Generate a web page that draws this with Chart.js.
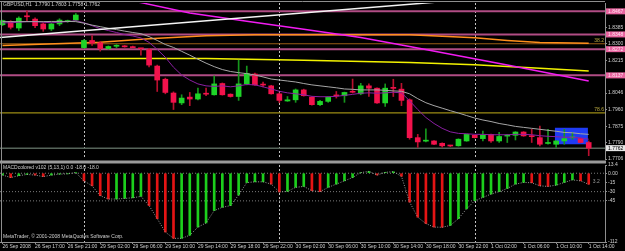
<!DOCTYPE html>
<html><head><meta charset="utf-8">
<script src="https://cdn.jsdelivr.net/npm/chart.js@4.4.1/dist/chart.umd.min.js"></script>
<style>
html,body{margin:0;padding:0;background:#000;width:625px;height:251px;overflow:hidden;}
#wrap{position:relative;width:625px;height:251px;background:#000;}
canvas{position:absolute;left:0;}
#c1{top:0;}
#c2{top:162px;}
</style></head><body>
<div id="wrap"><canvas id="c1" width="625" height="162"></canvas><canvas id="c2" width="625" height="89"></canvas></div>
<script>
// ---------- data ----------
const symbolTitle = 'GBPUSD,H1  1.7790 1.7803 1.7758 1.7762';
const macdTitle = 'MACDcolored v102 (5,13,1) 0.0 -18.0 -18.0';
const copyrightText = 'MetaTrader, \u00A9 2001-2008 MetaQuotes Software Corp.';
const timeLabelBars = [0,4,8,12,16,20,24,28,32,36,40,44,48,52,56,60,64,68,72];
const timeLabels = ['26 Sep 2008','26 Sep 17:00','26 Sep 21:00','29 Sep 02:00','29 Sep 06:00','29 Sep 10:00','29 Sep 14:00','29 Sep 18:00','29 Sep 22:00','30 Sep 02:00','30 Sep 06:00','30 Sep 10:00','30 Sep 14:00','30 Sep 18:00','30 Sep 22:00','1 Oct 02:00','1 Oct 06:00','1 Oct 10:00','1 Oct 14:00'];
const daySeparators = [10,34,58];

const open = [
1.8398,1.8415,1.8381,1.8441,1.8427,1.8402,1.8376,1.8402,1.8414,1.8422,
1.8280,1.8317,1.8305,1.8275,1.8287,1.8289,1.8285,1.8276,1.8270,1.8185,
1.8117,1.8046,1.7995,1.8025,1.8015,1.8042,1.8037,1.8095,1.8040,1.8028,
1.8093,1.8144,1.8089,1.8083,1.8042,1.8005,1.8011,1.8062,1.8025,1.7986,
1.8003,1.8033,1.8032,1.8052,1.8042,1.8083,1.8071,1.7995,1.8072,1.8066,
1.8011,1.7816,1.7798,1.7799,1.7787,1.7775,1.7774,1.7799,1.7828,1.7811,
1.7833,1.7799,1.7824,1.7828,1.7845,1.7823,1.7816,1.7786,1.7782,1.7799,
1.7815,1.7811,1.7791];
const high = [
1.8422,1.8419,1.8439,1.8470,1.8434,1.8408,1.8408,1.8429,1.8422,1.8456,
1.8322,1.8342,1.8312,1.8289,1.8296,1.8291,1.8288,1.8277,1.8276,1.8190,
1.8123,1.8052,1.8037,1.8049,1.8071,1.8071,1.8134,1.8098,1.8042,1.8215,
1.8185,1.8149,1.8103,1.8086,1.8047,1.8028,1.8067,1.8066,1.8028,1.8008,
1.8027,1.8054,1.8051,1.8118,1.8096,1.8093,1.8073,1.8093,1.8117,1.8096,
1.8016,1.7833,1.7862,1.7801,1.7789,1.7777,1.7810,1.7835,1.7830,1.7850,
1.7835,1.7843,1.7833,1.7847,1.7847,1.7859,1.7876,1.7859,1.7801,1.7859,
1.7843,1.7813,1.7799];
const low = [
1.8393,1.8376,1.8368,1.8415,1.8383,1.8364,1.8368,1.8393,1.8410,1.8419,
1.8276,1.8291,1.8262,1.8272,1.8279,1.8282,1.8278,1.8241,1.8181,1.8054,
1.8042,1.7961,1.7986,1.7981,1.8011,1.8032,1.8035,1.8035,1.8025,1.8008,
1.8088,1.8085,1.8078,1.8040,1.7996,1.8003,1.7998,1.8030,1.7984,1.7981,
1.7998,1.8020,1.7998,1.8046,1.8037,1.8028,1.7993,1.7977,1.8028,1.7981,
1.7808,1.7766,1.7794,1.7780,1.7767,1.7770,1.7772,1.7797,1.7814,1.7799,
1.7791,1.7791,1.7791,1.7804,1.7823,1.7791,1.7774,1.7782,1.7766,1.7782,
1.7808,1.7789,1.7723];
const close = [
1.8419,1.8385,1.8432,1.8439,1.8393,1.8376,1.8402,1.8422,1.8419,1.8448,
1.8317,1.8303,1.8275,1.8286,1.8289,1.8284,1.8280,1.8274,1.8190,1.8113,
1.8049,1.7998,1.8020,1.8015,1.8042,1.8040,1.8093,1.8037,1.8028,1.8093,
1.8147,1.8088,1.8087,1.8042,1.8008,1.8011,1.8062,1.8032,1.7986,1.8003,
1.8025,1.8031,1.8049,1.8050,1.8083,1.8071,1.7995,1.8071,1.8070,1.8008,
1.7816,1.7794,1.7800,1.7782,1.7774,1.7773,1.7808,1.7833,1.7816,1.7828,
1.7799,1.7822,1.7826,1.7845,1.7825,1.7821,1.7782,1.7788,1.7799,1.7811,
1.7817,1.7791,1.7762];

const maPurple = [
1.8408,1.8408,1.8411,1.8414,1.8414,1.8411,1.8408,1.8411,1.8414,1.8419,
1.8408,1.8393,1.8378,1.8368,1.8358,1.8347,1.8340,1.8330,1.8307,1.8271,
1.8230,1.8179,1.8139,1.8113,1.8093,1.8083,1.8080,1.8083,1.8078,1.8083,
1.8090,1.8088,1.8078,1.8067,1.8055,1.8047,1.8042,1.8037,1.8029,1.8027,
1.8027,1.8029,1.8034,1.8039,1.8045,1.8047,1.8045,1.8047,1.8050,1.8047,
1.8006,1.7961,1.7920,1.7889,1.7864,1.7846,1.7838,1.7836,1.7833,1.7833,
1.7831,1.7831,1.7831,1.7833,1.7833,1.7831,1.7826,1.7823,1.7821,1.7818,
1.7818,1.7815,1.7808];
const maGray = [
1.8414,1.8414,1.8414,1.8414,1.8414,1.8414,1.8415,1.8415,1.8415,1.8414,
1.8406,1.8396,1.8388,1.8380,1.8373,1.8365,1.8358,1.8352,1.8337,1.8317,
1.8296,1.8281,1.8261,1.8241,1.8220,1.8200,1.8182,1.8167,1.8157,1.8151,
1.8146,1.8139,1.8129,1.8118,1.8113,1.8108,1.8103,1.8095,1.8088,1.8083,
1.8078,1.8073,1.8067,1.8065,1.8062,1.8062,1.8062,1.8060,1.8057,1.8055,
1.8042,1.8017,1.7996,1.7981,1.7968,1.7955,1.7943,1.7930,1.7917,1.7907,
1.7899,1.7889,1.7882,1.7874,1.7869,1.7864,1.7859,1.7854,1.7849,1.7843,
1.7841,1.7836,1.7833];
const maMagenta = [[12,1.8546],[17,1.8512],[23,1.8459],[30,1.8416],[37,1.8375],[44,1.8332],[50,1.8286],[56,1.8238],[62,1.8190],[67,1.8149],[72,1.8108]];
const maOrange = [[0,1.8291],[12,1.8308],[18,1.8326],[25,1.8341],[31,1.8346],[50,1.8346],[58,1.8331],[62,1.8317],[66,1.8306],[72,1.8302]];
const maYellow = [[0,1.8224],[25,1.8224],[37,1.8215],[50,1.8203],[58,1.8192],[66,1.8174],[72,1.8159]];
const trendLine = [[-0.3,1.8332],[54.3,1.8518]];
const levelLines = [1.8467,1.8348,1.8272,1.8137];
const fibLevels = [1.8300,1.7944];
const fibNames = ['38.2','78.6'];
const bidPrice = 1.7762;
const boxBars = [67.85,71.9];
const boxPrices = [1.7782,1.7867];
const priceTicks = [1.8385,1.8300,1.8215,1.8046,1.7960,1.7875,1.7790,1.7706];

const macd = [
-3,-7,-4,-2,-3,-5.5,-3,-1.5,-1,1,
-12.5,-20.5,-36.6,-42,-42,-41,-40,-37.7,-52.7,-74,
-95.8,-106,-106,-101,-87.7,-81,-60.8,-55.5,-52.7,-35.5,
-15.2,-14,-14,-17.7,-30.5,-29.5,-23,-21.5,-28.5,-30,
-23,-17.7,-12.4,-7,1,3,-3,1.5,2.5,-5,
-47,-71.6,-82,-87.7,-88,-85,-74,-58,-44.7,-39.4,
-34,-30,-24.8,-17.7,-15,-15.5,-20.5,-21.5,-19.4,-15,
-10.8,-12.4,-18];
const macdUp = [
1,0,1,1,0,0,1,1,1,1,
0,0,0,0,1,1,1,1,0,0,
0,0,1,1,1,1,1,1,1,1,
1,1,1,0,0,1,1,1,0,0,
1,1,1,1,1,1,0,1,1,0,
0,0,0,0,0,1,1,1,1,1,
1,1,1,1,1,0,0,0,1,1,
1,0,0];
const macdTicks = [13.4,0,-15,-30,-45,-112];
const macdTickLabels = ['13.4','0.00','-15','-30','-45','-112'];
const macdLevels = [0,-30,-45];
const macdNote = '3.2';

// ---------- layout / style ----------
const X_MIN = -0.31, X_MAX = 74.0;
const P_MIN = 1.7706, P_MAX = 1.8510;
const FONT = 'Liberation Sans';
const TXT = '#cfcfcf';
const FRAME = '#8e8e8e';
const N = close.length;
const idx = Array.from({length:N}, (_, i) => i);
const isUp = idx.map(i => close[i] >= open[i]);

const pts = arr => arr.map(p => ({x:p[0], y:p[1]}));
const series = arr => arr.map((v, i) => ({x:i, y:v}));
const hline = p => [{x:X_MIN, y:p}, {x:X_MAX, y:p}];
const lineDS = (data, color, w, order, dash) => ({type:'line', data, borderColor:color, borderWidth:w, pointRadius:0, pointHoverRadius:0, fill:false, tension:0, order, borderDash:dash || []});

const dsA = [];
levelLines.forEach(p => dsA.push(lineDS(hline(p), '#b04c84', 2, 20)));
dsA.push(lineDS(hline(fibLevels[0]), '#9a5c14', 1.2, 20));
dsA.push(lineDS(hline(fibLevels[1]), '#9c8c14', 1.2, 20));
dsA.push(lineDS(hline(bidPrice), '#56645a', 1.5, 20));
dsA.push(lineDS(pts(maYellow), '#f2f200', 1.5, 15));
dsA.push(lineDS(pts(maOrange), '#ff8f1c', 1.5, 15));
dsA.push({type:'bar', data: idx.map(i => ({x:i, y:[low[i], high[i]]})), backgroundColor: idx.map(i => isUp[i] ? '#16961c' : '#b8102e'), barThickness:1, grouped:false, order:6});
dsA.push({type:'bar', data: idx.map(i => ({x:i, y:[open[i], close[i]]})), backgroundColor: idx.map(i => isUp[i] ? '#1ed428' : '#f2124c'), barThickness:5, minBarLength:1, grouped:false, order:5});
dsA.push(lineDS(series(maGray), '#a6a6a6', 1, 2));
dsA.push(lineDS(series(maPurple), '#8a1fa2', 1, 2));
dsA.push(lineDS(pts(maMagenta), '#f21cf2', 1.5, 1));
dsA.push(lineDS(pts(trendLine), '#f4f4f4', 1.5, 0));

const drawSeparators = (chart) => {
  const {ctx, chartArea:a, scales:{x}} = chart;
  ctx.save();
  ctx.strokeStyle = '#c4c4c4'; ctx.lineWidth = 1; ctx.setLineDash([2,2]);
  daySeparators.forEach(b => {
    const px = Math.round(x.getPixelForValue(b)) + 0.5;
    ctx.beginPath(); ctx.moveTo(px, a.top); ctx.lineTo(px, a.bottom); ctx.stroke();
  });
  ctx.restore();
};

const decorA = {
  id:'decorA',
  beforeDatasetsDraw(chart){
    const {ctx, chartArea:a, scales:{x, y}} = chart;
    ctx.save();
    ctx.beginPath(); ctx.rect(a.left, a.top, a.width, a.height); ctx.clip();
    const x1 = x.getPixelForValue(boxBars[0]), x2 = x.getPixelForValue(boxBars[1]);
    const y1 = y.getPixelForValue(boxPrices[1]), y2 = y.getPixelForValue(boxPrices[0]);
    ctx.fillStyle = '#1f3cf4';
    ctx.fillRect(x1, y1, x2 - x1, y2 - y1);
    ctx.restore();
    drawSeparators(chart);
  },
  afterDraw(chart){
    const {ctx, chartArea:a, scales:{y}} = chart;
    ctx.save();
    ctx.font = '5px ' + FONT;
    ctx.textBaseline = 'middle';
    levelLines.forEach(p => {
      const py = y.getPixelForValue(p);
      ctx.fillStyle = '#e8649f';
      ctx.fillRect(a.right + 1, py - 3, 624 - a.right, 6);
      ctx.fillStyle = '#ffe0ef';
      ctx.textAlign = 'left';
      ctx.fillText(p.toFixed(4), a.right + 3, py + 0.3);
    });
    const by = y.getPixelForValue(bidPrice);
    ctx.fillStyle = '#e6e6e6';
    ctx.fillRect(a.right + 1, by - 3, 624 - a.right, 6);
    ctx.fillStyle = '#000';
    ctx.fillText(bidPrice.toFixed(4), a.right + 3, by + 0.3);
    ctx.fillStyle = '#b8a840';
    ctx.textAlign = 'right';
    fibLevels.forEach((p, k) => {
      ctx.fillText(fibNames[k], a.right - 1, y.getPixelForValue(p) - 3);
    });
    ctx.fillStyle = TXT; ctx.textAlign = 'left';
    ctx.fillText(symbolTitle, 3, 5);
    ctx.strokeStyle = FRAME; ctx.lineWidth = 1;
    ctx.beginPath();
    ctx.moveTo(0, 1.5); ctx.lineTo(a.right, 1.5);
    ctx.moveTo(1.5, 1); ctx.lineTo(1.5, 162);
    ctx.stroke();
    ctx.fillStyle = '#9a9a9a';
    ctx.fillRect(0, 160.5, a.right + 1, 1.5);
    ctx.restore();
  }
};

new Chart(document.getElementById('c1'), {
  type:'bar',
  data:{datasets:dsA},
  options:{
    responsive:false, animation:false, devicePixelRatio:1,
    layout:{padding:{top:2, bottom:2, left:0, right:0}},
    plugins:{legend:{display:false}, tooltip:{enabled:false}},
    scales:{
      x:{type:'linear', min:X_MIN, max:X_MAX, offset:false, display:false, grid:{offset:false}},
      y:{type:'linear', position:'right', min:P_MIN, max:P_MAX,
        afterBuildTicks: s => { s.ticks = priceTicks.map(v => ({value:v})); },
        afterFit: s => { s.width = 20; },
        ticks:{color:TXT, font:{family:FONT, size:5, lineHeight:0.8}, padding:1, autoSkip:false, callback: v => Number(v).toFixed(4)},
        grid:{drawOnChartArea:false, drawTicks:true, tickLength:2, color:FRAME},
        border:{display:true, color:FRAME, width:1}
      }
    }
  },
  plugins:[decorA]
});

// ---------- indicator panel ----------
const dsB = [];
macdLevels.forEach(v => dsB.push(lineDS(hline(v), '#7c7c7c', 1, 10, [1,2])));
dsB.push({type:'bar', data: series(macd), backgroundColor: idx.map(i => macdUp[i] ? '#1ccf1c' : '#e41414'), barThickness:2, grouped:false, order:3});
dsB.push(lineDS(series(macd), '#9a9a9a', 1, 1, [1,1.5]));

const decorB = {
  id:'decorB',
  beforeDatasetsDraw(chart){ drawSeparators(chart); },
  afterDraw(chart){
    const {ctx, chartArea:a, scales:{x, y}} = chart;
    ctx.save();
    ctx.font = '5px ' + FONT;
    ctx.textBaseline = 'middle';
    ctx.fillStyle = TXT; ctx.textAlign = 'left';
    ctx.fillText(macdTitle, 3, 6);
    ctx.fillText(copyrightText, 3, 74.7);
    ctx.fillStyle = '#9a9a9a';
    ctx.fillText(macdNote, x.getPixelForValue(N - 1) + 4, y.getPixelForValue(-14));
    ctx.fillStyle = '#9a9a9a';
    ctx.fillRect(0, 0, a.right + 1, 1.5);
    ctx.strokeStyle = FRAME; ctx.lineWidth = 1;
    ctx.beginPath(); ctx.moveTo(1.5, 0); ctx.lineTo(1.5, a.bottom); ctx.stroke();
    ctx.restore();
  }
};

new Chart(document.getElementById('c2'), {
  type:'bar',
  data:{datasets:dsB},
  options:{
    responsive:false, animation:false, devicePixelRatio:1,
    layout:{padding:{top:2, bottom:0, left:0, right:0}},
    plugins:{legend:{display:false}, tooltip:{enabled:false}},
    scales:{
      x:{type:'linear', position:'bottom', min:X_MIN, max:X_MAX, offset:false,
        afterBuildTicks: s => { s.ticks = timeLabelBars.map(v => ({value:v})); },
        afterFit: s => { s.height = 9; },
        ticks:{color:TXT, font:{family:FONT, size:5, lineHeight:1}, padding:0, align:'start', maxRotation:0, autoSkip:false,
          callback: (v, i) => timeLabels[i]},
        grid:{drawOnChartArea:false, drawTicks:true, tickLength:2, color:FRAME, offset:false},
        border:{display:true, color:FRAME, width:1}
      },
      y:{type:'linear', position:'right', min:-112, max:13.4,
        afterBuildTicks: s => { s.ticks = macdTicks.map(v => ({value:v})); },
        afterFit: s => { s.width = 20; },
        ticks:{color:TXT, font:{family:FONT, size:5, lineHeight:0.8}, padding:1, autoSkip:false,
          callback: (v, i) => macdTickLabels[i]},
        grid:{drawOnChartArea:false, drawTicks:true, tickLength:2, color:FRAME},
        border:{display:true, color:FRAME, width:1}
      }
    }
  },
  plugins:[decorB]
});
</script>
</body></html>
